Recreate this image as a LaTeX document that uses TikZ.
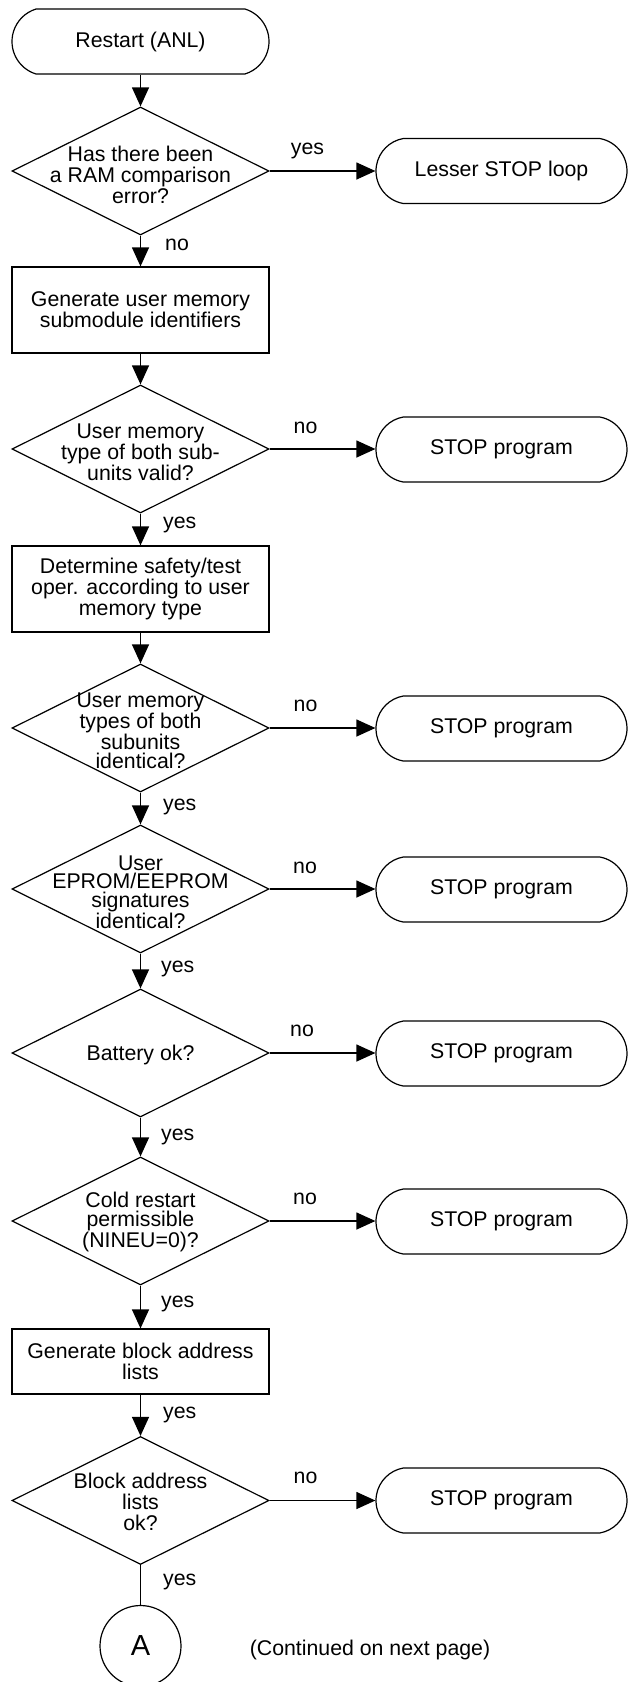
\documentclass[tikz,border=0pt]{standalone}
\usepackage{fontspec}
\setmainfont{Liberation Sans}
\usetikzlibrary{shapes.geometric,shapes.misc,arrows.meta}
\begin{document}
\begin{tikzpicture}[x=1pt,y=-1pt,
  every node/.style={font=\fontsize{21.3}{21}\selectfont},
  ln/.style={line width=1.2pt},
  arr/.style={ln,-{Triangle[length=19pt,width=17pt]}},
  term/.style={draw,ln,rounded rectangle,rounded rectangle arc length=160,minimum width=251pt,minimum height=65pt,inner sep=0pt},
  dia/.style={draw,ln,diamond,minimum width=257pt,minimum height=128pt,inner sep=0pt},
  proc/.style={draw,ln,rectangle,minimum width=257pt,inner sep=0pt,align=center},
  dtxt/.style={align=center,inner sep=0pt},
  lab/.style={anchor=base,inner sep=0pt},
  labb/.style={anchor=base west,inner sep=0pt},
]
\useasboundingbox (0,0) rectangle (628,1682);
\begin{scope}
\clip (0,0) rectangle (628,1682);
% main column
\node[term,rounded rectangle arc length=146,minimum width=257pt] (t0) at (140.5,41.5) {Restart (ANL)};
\node[dia] (d1) at (140.5,171) {};
\node[dtxt] (d1t) at ([yshift=-4pt]d1.center) {Has there been\\a RAM comparison\\error?};
\node[proc,minimum height=86pt] (b1) at (140.5,310) {Generate user memory\\submodule identifiers};
\node[dia] (d2) at (140.5,449) {};
\node[dtxt,font=\fontsize{21.3}{19.5}\selectfont] (d2t) at ([yshift=-3pt]d2.center) {User memory\\type of both sub-\\units valid?};
\node[proc,minimum height=86pt] (b2) at (140.5,589) {Determine safety/test\\oper. according to user\\memory type};
\node[dia] (d3) at (140.5,728) {};
\node[dtxt,font=\fontsize{21.3}{19}\selectfont] (d3t) at ([yshift=-3pt]d3.center) {User memory\\types of both\\subunits\\identical?};
\node[dia] (d4) at (140.5,889) {};
\node[dtxt,font=\fontsize{21.3}{18.4}\selectfont] (d4t) at ([yshift=-3pt]d4.center) {User\\EPROM/EEPROM\\signatures\\identical?};
\node[dia] (d5) at (140.5,1053) {};
\node[dtxt] (d5t) at ([yshift=-2pt]d5.center) {Battery ok?};
\node[dia] (d6) at (140.5,1221) {};
\node[dtxt,font=\fontsize{21.3}{19}\selectfont] (d6t) at ([yshift=-1pt]d6.center) {Cold restart\\permissible\\(NINEU=0)?};
\node[proc,minimum height=65pt] (b3) at (140.5,1361.5) {Generate block address\\lists};
\node[dia] (d7) at (140.5,1500.5) {};
\node[dtxt] (d7t) at ([yshift=-1pt]d7.center) {Block address\\lists\\ok?};
\node[draw,ln,circle,minimum size=81pt,inner sep=0pt,font=\fontsize{29}{29}\selectfont] (ca) at (140.5,1646) {A};
\node[lab] (cont) at (370,1655) {(Continued on next page)};
% right column
\node[term] (s1) at (501.5,171) {Lesser STOP loop};
\node[term] (s2) at (501.5,449.5) {STOP program};
\node[term] (s3) at (501.5,728.5) {STOP program};
\node[term] (s4) at (501.5,889.5) {STOP program};
\node[term] (s5) at (501.5,1053.5) {STOP program};
\node[term] (s6) at (501.5,1221.5) {STOP program};
\node[term] (s7) at (501.5,1500.5) {STOP program};
% vertical flow
\draw[arr] (t0.south) -- (d1.north);
\draw[arr] (d1.south) -- (b1.north);
\draw[arr] (b1.south) -- (d2.north);
\draw[arr] (d2.south) -- (b2.north);
\draw[arr] (b2.south) -- (d3.north);
\draw[arr] (d3.south) -- (d4.north);
\draw[arr] (d4.south) -- (d5.north);
\draw[arr] (d5.south) -- (d6.north);
\draw[arr] (d6.south) -- (b3.north);
\draw[arr] (b3.south) -- (d7.north);
\draw[ln] (d7.south) -- (ca.north);
% horizontal flow
\draw[arr] (d1.east) -- (s1.west);
\draw[arr] (d2.east) -- (s2.west |- d2.east);
\draw[arr] (d3.east) -- (s3.west |- d3.east);
\draw[arr] (d4.east) -- (s4.west |- d4.east);
\draw[arr] (d5.east) -- (s5.west |- d5.east);
\draw[arr] (d6.east) -- (s6.west |- d6.east);
\draw[arr] (d7.east) -- (s7.west);
% labels
\node[lab] (l1) at (307.5,154) {yes};
\node[labb] (l2) at (165,250.5) {no};
\node[lab] (l3) at (305.5,433.5) {no};
\node[labb] (l4) at (163,528.5) {yes};
\node[lab] (l5) at (305.5,711.5) {no};
\node[labb] (l6) at (163,810.5) {yes};
\node[lab] (l7) at (305,873.5) {no};
\node[labb] (l8) at (161,972.5) {yes};
\node[lab] (l9) at (302,1036.5) {no};
\node[labb] (l10) at (161,1140.5) {yes};
\node[lab] (l11) at (305,1204.5) {no};
\node[labb] (l12) at (161,1307.5) {yes};
\node[labb] (l13) at (163,1418.5) {yes};
\node[lab] (l14) at (305.5,1483.5) {no};
\node[labb] (l15) at (163,1585.5) {yes};
\end{scope}
\end{tikzpicture}
\end{document}
